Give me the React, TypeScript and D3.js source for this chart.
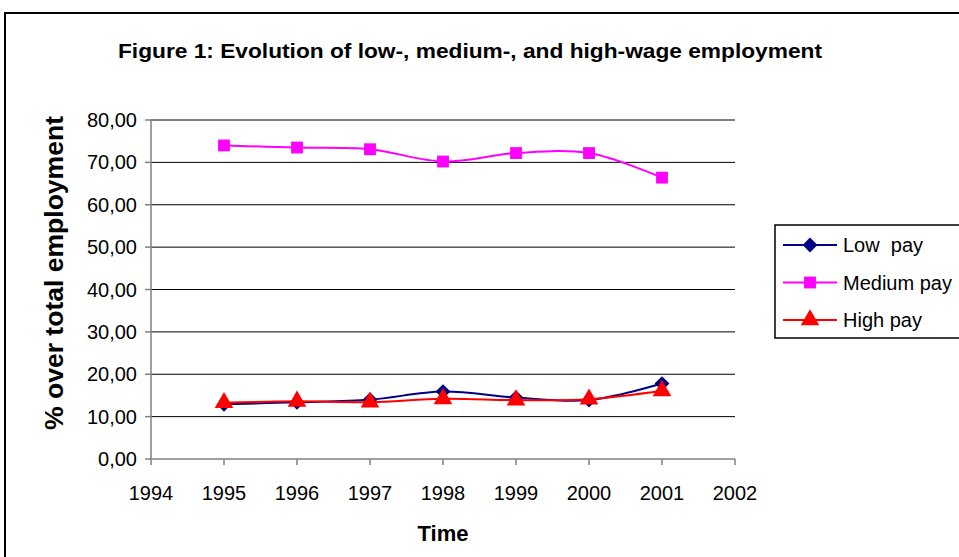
import { useEffect, useRef } from 'react';
import * as d3 from 'd3';

const years = [1995, 1996, 1997, 1998, 1999, 2000, 2001];
const lowPay = [12.9, 13.4, 14.0, 15.9, 14.5, 13.9, 17.8];
const mediumPay = [74.0, 73.5, 73.1, 70.2, 72.2, 72.2, 66.4];
const highPay = [13.3, 13.6, 13.4, 14.2, 13.9, 14.1, 16.1];
const xTicks = [1994, 1995, 1996, 1997, 1998, 1999, 2000, 2001, 2002];
const yTicks = [0, 10, 20, 30, 40, 50, 60, 70, 80];

const series = [
  { name: 'Low  pay', values: lowPay, color: '#000080', shape: 'diamond' },
  { name: 'Medium pay', values: mediumPay, color: '#FF00FF', shape: 'square' },
  { name: 'High pay', values: highPay, color: '#FF0000', shape: 'triangle' },
];

const FONT = 'Liberation Sans, Arial, sans-serif';

export default function App() {
  const svgRef = useRef<SVGSVGElement>(null);

  useEffect(() => {
    const svg = d3.select(svgRef.current);
    svg.selectAll('*').remove();

    const W = 959, H = 557;
    svg.attr('width', W).attr('height', H);

    // outer chart frame
    svg.append('rect').attr('x', 5).attr('y', 13).attr('width', W + 20).attr('height', H + 20)
      .attr('fill', '#fff').attr('stroke', '#000').attr('stroke-width', 2);

    const x = d3.scaleLinear().domain([1994, 2002]).range([151, 735]);
    const y = d3.scaleLinear().domain([0, 80]).range([459, 120]);

    // title
    svg.append('text').attr('x', 118).attr('y', 58)
      .attr('font-family', FONT).attr('font-weight', 'bold').attr('font-size', 20)
      .attr('textLength', 704).attr('lengthAdjust', 'spacingAndGlyphs')
      .text('Figure 1: Evolution of low-, medium-, and high-wage employment');

    // gridlines
    yTicks.filter(t => t > 0).forEach(t => {
      svg.append('line').attr('x1', x(1994)).attr('x2', x(2002)).attr('y1', y(t)).attr('y2', y(t))
        .attr('stroke', '#000').attr('stroke-width', 1);
    });

    // axes
    svg.append('line').attr('x1', x(1994)).attr('x2', x(1994)).attr('y1', y(80)).attr('y2', y(0))
      .attr('stroke', '#808080').attr('stroke-width', 1.5);
    svg.append('line').attr('x1', x(1994)).attr('x2', x(2002)).attr('y1', y(0)).attr('y2', y(0))
      .attr('stroke', '#808080').attr('stroke-width', 1.5);

    yTicks.forEach(t => {
      svg.append('line').attr('x1', x(1994) - 6).attr('x2', x(1994)).attr('y1', y(t)).attr('y2', y(t))
        .attr('stroke', '#808080').attr('stroke-width', 1.5);
      svg.append('text').attr('x', 137).attr('y', y(t) + 7)
        .attr('text-anchor', 'end').attr('font-family', FONT).attr('font-size', 20)
        .text(d3.format('.2f')(t).replace('.', ','));
    });
    xTicks.forEach(t => {
      svg.append('line').attr('x1', x(t)).attr('x2', x(t)).attr('y1', y(0)).attr('y2', y(0) + 6)
        .attr('stroke', '#808080').attr('stroke-width', 1.5);
      svg.append('text').attr('x', x(t)).attr('y', 500)
        .attr('text-anchor', 'middle').attr('font-family', FONT).attr('font-size', 20)
        .text(t);
    });

    // axis titles
    svg.append('text').attr('x', 443).attr('y', 541)
      .attr('text-anchor', 'middle').attr('font-family', FONT).attr('font-weight', 'bold').attr('font-size', 22)
      .text('Time');
    svg.append('text').attr('transform', `translate(63, 273) rotate(-90)`)
      .attr('text-anchor', 'middle').attr('font-family', FONT).attr('font-weight', 'bold').attr('font-size', 25)
      .attr('textLength', 314).attr('lengthAdjust', 'spacingAndGlyphs')
      .text('% over total employment');

    const symbolFor = (shape: string) =>
      shape === 'diamond' ? d3.symbol().type(d3.symbolDiamond2).size(140)
        : shape === 'square' ? d3.symbol().type(d3.symbolSquare).size(140)
          : d3.symbol().type(d3.symbolTriangle).size(150);

    const line = d3.line<number>()
      .x((_, i) => x(years[i]))
      .y(d => y(d))
      .curve(d3.curveCatmullRom.alpha(0.5));

    // draw medium first, then low, then high on top
    [series[1], series[0], series[2]].forEach(s => {
      svg.append('path').datum(s.values).attr('d', line)
        .attr('fill', 'none').attr('stroke', s.color).attr('stroke-width', 2);
      s.values.forEach((v, i) => {
        svg.append('path').attr('d', symbolFor(s.shape)())
          .attr('transform', `translate(${x(years[i])},${y(v)})`)
          .attr('fill', s.color);
      });
    });

    // legend
    svg.append('rect').attr('x', 775).attr('y', 225).attr('width', 200).attr('height', 113)
      .attr('fill', '#fff').attr('stroke', '#000').attr('stroke-width', 1.5);
    series.forEach((s, i) => {
      const ly = 245 + i * 37.5;
      svg.append('line').attr('x1', 783).attr('x2', 837).attr('y1', ly).attr('y2', ly)
        .attr('stroke', s.color).attr('stroke-width', 2);
      svg.append('path').attr('d', symbolFor(s.shape)())
        .attr('transform', `translate(810,${ly})`).attr('fill', s.color);
      svg.append('text').attr('x', 843).attr('y', ly + 7)
        .attr('font-family', FONT).attr('font-size', 20)
        .style('white-space', 'pre')
        .text(s.name);
    });
  }, []);

  return (
    <svg ref={svgRef} style={{ position: 'fixed', left: 0, top: 0 }} />
  );
}
